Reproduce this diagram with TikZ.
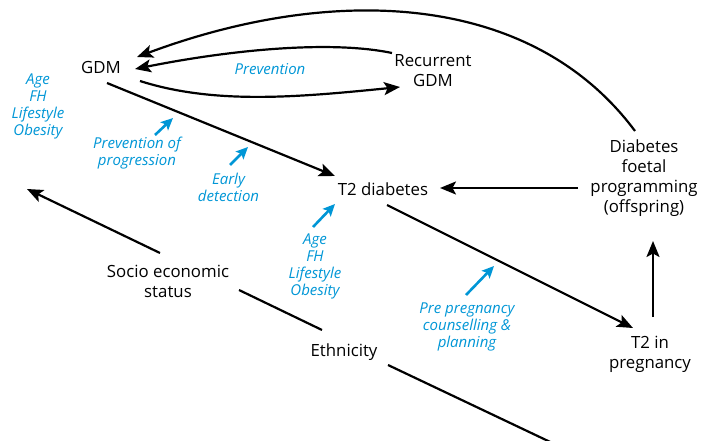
\documentclass[tikz,border=0pt]{standalone}
\usepackage{fontspec}
\setmainfont{Open Sans}
\usetikzlibrary{arrows.meta}
\definecolor{hintblue}{RGB}{0,150,214}
\begin{document}
\begin{tikzpicture}[x=1pt,y=-1pt,
  lbl/.style={font=\fontsize{16.8}{20}\selectfont, align=center, inner sep=0pt},
  note/.style={font=\fontsize{15}{17}\selectfont\itshape, text=hintblue, align=center, inner sep=0pt},
  conn/.style={line width=2.2pt, -{Stealth[length=16pt,width=13pt,inset=3.5pt]}},
  plain/.style={line width=2.2pt},
  hint/.style={line width=2.6pt, draw=hintblue, -{Stealth[length=12pt,width=11pt,inset=2.5pt]}}]
\path[use as bounding box] (0,0) rectangle (701,441);
\clip (0,0) rectangle (701,441);

% main nodes
\node[lbl] (gdm) at (101,67.5) {GDM};
\node[lbl] (rec) at (433,70.5) {Recurrent\\GDM};
\node[lbl] (t2) at (383,189.5) {T2 diabetes};
\node[lbl] (dfp) at (644,178) {Diabetes\\foetal\\programming\\(offspring)};
\node[lbl] (t2p) at (650,354) {T2 in\\pregnancy};
\node[lbl] (ses) at (168,281) {Socio economic\\status};
\node[lbl] (eth) at (344,352) {Ethnicity};

% blue notes
\node[note] (riskA) at (38,106) {Age\\FH\\Lifestyle\\Obesity};
\node[note] (prev) at (270,69) {Prevention};
\node[note] (prevprog) at (137,153) {Prevention of\\progression};
\node[note] (early) at (228.5,187) {Early\\detection};
\node[note] (riskB) at (315,266) {Age\\FH\\Lifestyle\\Obesity};
\node[note] (prepreg) at (467,327) {Pre pregnancy\\counselling \&\\planning};

% connector end points
\coordinate (dfpTop) at (635,131);
\coordinate (gdmTop) at (137,57);
\coordinate (recL) at (392,53);
\coordinate (gdmR) at (135,69);
\coordinate (gdmRb) at (140,81);
\coordinate (recIn) at (400,87);
\coordinate (gdmB) at (107,83);
\coordinate (t2In) at (335,176);
\coordinate (dfpL) at (578,188);
\coordinate (t2R) at (440,188);
\coordinate (t2B) at (387,205);
\coordinate (t2pIn) at (633,328);
\coordinate (t2pTop) at (653,317);
\coordinate (dfpB) at (653,241);
\coordinate (sesUp) at (160,253);
\coordinate (sesEnd) at (27,189);
\coordinate (sesR) at (239,290);
\coordinate (ethL) at (322,330);
\coordinate (ethR) at (388,365);
\coordinate (ethEnd) at (565,449);
\coordinate (hA1) at (155,135); \coordinate (hA2) at (173,118);
\coordinate (hB1) at (230,165); \coordinate (hB2) at (248,147);
\coordinate (hC1) at (313,227); \coordinate (hC2) at (335,204);
\coordinate (hD1) at (466,295); \coordinate (hD2) at (494,266);

% black connectors
\draw[conn] (dfpTop) .. controls (530,-10) and (330,-15) .. (gdmTop);
\draw[conn] (recL) .. controls (330,40) and (230,50) .. (gdmR);
\draw[conn] (gdmRb) .. controls (215,105) and (300,97) .. (recIn);
\draw[conn] (gdmB) -- (t2In);
\draw[conn] (dfpL) -- (t2R);
\draw[conn] (t2B) -- (t2pIn);
\draw[conn] (t2pTop) -- (dfpB);
\draw[conn] (sesUp) -- (sesEnd);
\draw[plain] (sesR) -- (ethL);
\draw[plain] (ethR) -- (ethEnd);

% blue arrows
\draw[hint] (hA1) -- (hA2);
\draw[hint] (hB1) -- (hB2);
\draw[hint] (hC1) -- (hC2);
\draw[hint] (hD1) -- (hD2);
\end{tikzpicture}
\end{document}
